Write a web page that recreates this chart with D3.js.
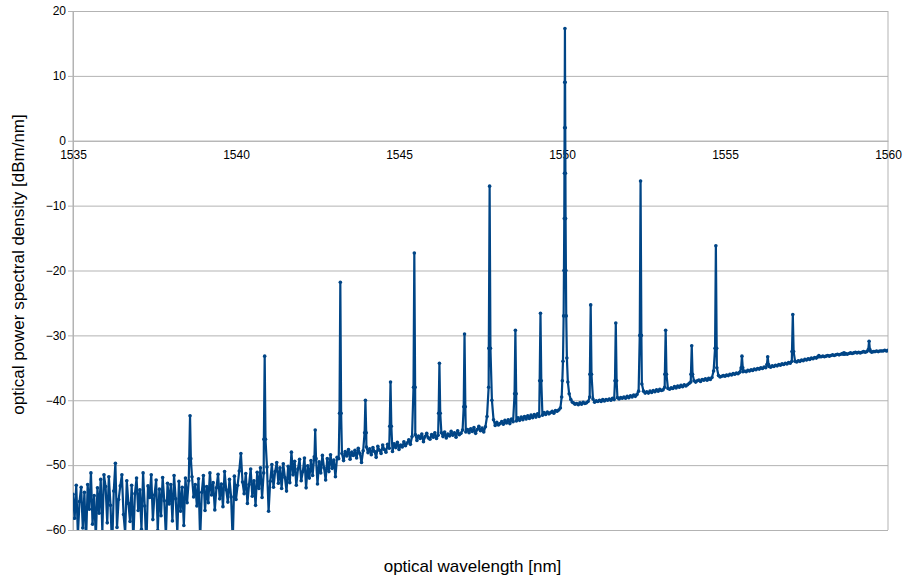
<!DOCTYPE html>
<html>
<head>
<meta charset="utf-8">
<script src="https://cdn.jsdelivr.net/npm/d3@7"></script>
<style>
  body { margin: 0; background: #fff; }
  .grid line { stroke: #b3b3b3; stroke-width: 1; }
  .grid path { stroke: none; }
  .axis text { font-family: "Liberation Sans", Arial, sans-serif; font-size: 12px; fill: #000; }
  .title { font-family: "Liberation Sans", Arial, sans-serif; font-size: 17px; fill: #000; }
  .line { fill: none; stroke: #004586; stroke-width: 2.2; stroke-linejoin: round; }
  .dot { fill: #004586; }
</style>
</head>
<body>
<div class="vis-spectrum"></div>
<script>
// tick labels
const xTicks = [1535, 1540, 1545, 1550, 1555, 1560];
const yTicks = [-60, -50, -40, -30, -20, -10, 0, 10, 20];

// spectrum samples, one value every 0.05 nm from 1535 nm
const specStart = 1535;
const specStep = 0.05;
const specDb = [
  // 1535.00 - 1538.50
  -54.5, -58.2, -53.1, -60.8, -55.6, -53.4, -59.7, -54.2, -62.0, -53.0,
  -56.8, -51.2, -59.1, -54.7, -61.3, -53.5, -57.4, -52.2, -60.2, -51.5,
  -53.3, -58.9, -51.8, -56.2, -63.0, -54.0, -49.7, -59.6, -55.3, -53.2,
  -51.5, -57.6, -60.5, -52.4, -55.9, -58.7, -53.1, -61.8, -54.4, -52.0,
  -57.0, -53.8, -59.9, -51.2, -56.3, -62.5, -53.2, -55.0, -51.5, -58.4,
  -54.6, -52.3, -60.1, -53.7, -57.8, -51.9, -55.5, -61.0, -52.8, -56.0,
  -53.0, -58.6, -51.6, -55.2, -60.4, -52.5, -57.1, -53.4, -59.3, -52.0, -55.8,
  // 1538.55 - 1540.80
  -52.4, -55.6, -51.8, -54.9, -53.0, -56.3, -52.1, -61.5, -54.2, -51.6,
  -57.0, -53.3, -55.8, -51.2, -54.6, -52.7, -56.9, -53.5, -51.4, -55.2,
  -52.9, -56.4, -51.0, -53.8, -55.7, -52.2, -54.9, -62.0, -51.7, -55.3,
  -53.1, -50.9, -48.2, -52.6, -54.4, -51.3, -55.9, -53.0, -50.6, -54.8,
  -52.4, -56.2, -51.1, -53.6, -50.4, -55.0,
  // 1540.85 - 1543.10
  -51.2, -53.9, -50.3, -57.1, -52.5, -49.9, -53.4, -51.0, -49.6, -52.8,
  -50.4, -53.6, -49.8, -51.9, -54.0, -50.2, -52.7, -48.0, -51.5, -49.4,
  -53.1, -50.6, -49.1, -52.4, -51.0, -48.9, -53.5, -50.1, -52.0, -49.3,
  -51.6, -48.7, -50.8, -52.9, -49.5, -51.2, -48.5, -50.4, -52.3, -49.0,
  -51.0, -48.4, -50.5, -49.2, -51.8, -48.8,
  // 1543.15 - 1549.80
  -49.0, -47.5, -48.2, -49.3, -47.9, -48.6, -47.6, -49.1, -48.0, -48.5,
  -47.7, -48.9, -47.4, -48.2, -49.6, -47.8, -48.3, -47.2, -48.1, -47.5,
  -48.4, -47.3, -47.9, -48.8, -47.1, -47.7, -48.2, -46.9, -47.6, -48.0,
  -46.8, -47.4, -47.0, -47.9, -46.7, -47.3, -46.5, -47.6, -46.9, -47.2,
  -46.4, -47.0, -46.6, -46.1, -46.8, -45.6, -45.9, -45.3, -46.2, -45.5,
  -45.9, -45.2, -46.4, -45.6, -45.1, -45.8, -46.0, -45.3, -45.7, -45.0,
  -45.9, -45.4, -45.5, -45.0, -45.6, -44.9, -45.8, -45.2, -45.5, -44.8,
  -45.4, -45.0, -45.7, -44.7, -45.3, -45.1, -44.6, -45.5, -44.9, -44.5,
  -45.0, -44.4, -44.8, -44.2, -45.1, -44.5, -44.0, -44.7, -44.3, -44.9,
  -44.1, -42.5, -38.0, -43.7, -40.0, -43.0, -43.9, -43.4, -43.8, -43.6,
  -43.3, -43.7, -43.1, -43.5, -43.0, -43.6, -42.9, -43.3, -42.8, -43.2,
  -42.7, -43.1, -42.6, -43.0, -42.5, -42.9, -42.4, -42.8, -42.3, -42.7,
  -42.2, -42.6, -42.1, -42.5, -42.0, -42.3, -41.9, -42.2, -41.8, -42.1,
  -41.9, -41.7, -42.0, -41.6,
  // 1549.85 - 1550.30 (under the 1550 nm line)
  -41.7, -41.5, -41.2, -40.0, -38.0, -30.0, -20.0, -35.0, -39.0, -40.2,
  // 1550.35 - 1560.00
  -40.4, -40.6, -40.5, -40.7, -40.4, -40.6, -40.3, -40.5, -40.4, -40.2,
  -39.5, -40.3, -39.8, -40.3, -40.1, -40.2, -40.0, -40.2, -39.9, -40.1,
  -39.9, -40.0, -39.8, -40.0, -39.7, -39.9, -39.2, -39.6, -39.8, -39.6,
  -39.7, -39.5, -39.7, -39.4, -39.6, -39.3, -39.5, -39.2, -39.4, -39.1,
  -38.6, -37.0, -37.5, -38.6, -38.9, -38.7, -38.9, -38.6, -38.8, -38.5,
  -38.7, -38.4, -38.6, -38.3, -38.5, -38.4, -38.0, -38.3, -38.2, -38.3,
  -38.1, -38.2, -37.9, -38.1, -37.8, -38.0, -37.7, -37.9, -37.6, -37.8,
  -37.6, -37.4, -37.2, -37.5, -37.0, -37.2, -37.0, -36.9, -37.1, -36.8,
  -36.9, -36.7, -36.9, -36.6, -36.8, -36.5, -35.5, -34.0, -35.0, -36.2,
  -36.4, -36.3, -36.2, -36.3, -36.1, -36.2, -36.0, -36.1, -35.9, -36.0,
  -35.8, -35.9, -35.7, -35.6, -35.6, -35.5, -35.6, -35.4, -35.5, -35.3,
  -35.4, -35.2, -35.3, -35.1, -35.2, -35.0, -35.1, -34.9, -35.0, -34.8,
  -34.8, -34.9, -34.7, -34.8, -34.6, -34.7, -34.5, -34.6, -34.4, -34.5,
  -34.3, -34.4, -34.2, -34.3, -34.0, -34.0, -34.0, -34.1, -33.9, -34.0,
  -33.8, -33.9, -33.7, -33.8, -33.6, -33.7, -33.5, -33.6, -33.4, -33.5,
  -33.3, -33.4, -33.3, -33.2, -33.3, -33.2, -33.1, -33.2, -33.1, -33.0,
  -33.1, -33.0, -32.9, -33.0, -32.9, -32.8, -32.9, -32.8, -32.9, -32.8,
  -32.7, -32.8, -32.7, -32.6, -32.7, -32.6, -32.7, -32.6, -32.5, -32.6,
  -32.5, -32.3, -32.4, -32.6, -32.5, -32.5, -32.4, -32.5, -32.4, -32.4,
  -32.4, -32.3, -32.4, -32.3
];

// comb lines: position [nm], peak level and level 0.025 nm either side [dBm/nm]
const peakWl = [1538.59, 1540.88, 1542.43, 1543.20, 1543.97, 1544.74, 1545.47, 1546.24,
                1547.01, 1547.78, 1548.57, 1549.34, 1550.88, 1551.65, 1552.41, 1553.18,
                1553.98, 1554.72, 1555.52, 1556.31, 1557.08, 1557.88, 1558.65, 1559.42];
const peakTop = [-42.4, -33.2, -44.6, -21.8, -40.0, -37.2, -17.3, -34.3,
                 -29.8, -7.0, -29.2, -26.6, -25.3, -28.1, -6.2, -29.2,
                 -31.6, -16.2, -33.2, -33.3, -26.8, -33.1, -32.7, -30.9];
const peakMid = [-49.0, -46.0, -49.0, -42.0, -45.0, -44.0, -38.0, -42.0,
                 -41.0, -32.0, -39.0, -37.0, -36.0, -37.0, -30.0, -36.0,
                 -36.0, -32.0, -35.0, -34.5, -32.5, -33.3, -32.9, -32.2];

// the strong line at 1550.09 nm, traced point by point
const centerWl = [1549.95, 1549.99, 1550.01, 1550.03, 1550.05, 1550.06, 1550.07, 1550.075,
                  1550.08, 1550.085, 1550.09, 1550.095, 1550.10, 1550.105, 1550.11, 1550.12,
                  1550.13, 1550.15, 1550.18, 1550.22, 1550.27, 1550.32];
const centerDb = [-41.2, -39.5, -37.0, -34.0, -27.0, -20.0, -12.0, -5.0,
                  2.0, 9.0, 17.3, 9.0, 2.0, -5.0, -12.0, -20.0,
                  -27.0, -33.5, -37.2, -39.0, -39.9, -40.3];

const draw = () => {
    let margin = {top: 11, right: 17, bottom: 49, left: 73};
    const W = 905, H = 579;
    const width = W - margin.left - margin.right;
    const height = H - margin.top - margin.bottom;

    // merge samples, comb lines and the centre line into one series
    let data = [];
    specDb.forEach(function(v, i){
        const wl = specStart + i * specStep;
        if (wl > centerWl[0] - 0.001 && wl < centerWl[centerWl.length - 1] + 0.001) return;
        if (peakWl.some(function(p){ return Math.abs(p - wl) < 0.024; })) return;
        data.push({wl: wl, db: v});
    });
    peakWl.forEach(function(p, i){
        data.push({wl: p - 0.025, db: peakMid[i]});
        data.push({wl: p, db: peakTop[i]});
        data.push({wl: p + 0.025, db: peakMid[i]});
    });
    centerWl.forEach(function(w, i){
        data.push({wl: w, db: centerDb[i]});
    });
    data.sort(function(a, b){ return a.wl - b.wl; });

    let svg = d3.select('.vis-spectrum')
                .append('svg')
                .attr('width', W)
                .attr('height', H)
                .append('g')
                .attr('transform', 'translate(' + margin.left + ',' + margin.top + ')');

    let xScale = d3.scaleLinear()
            .domain([1535, 1560])
            .range([0, width]);
    let yScale = d3.scaleLinear()
            .domain([-60, 20])
            .range([height, 0]);

    // horizontal grid lines
    svg.append('g')
        .attr('class', 'grid')
        .call(d3.axisLeft(yScale)
            .tickValues(yTicks)
            .tickSize(-width)
            .tickFormat(''));

    // frame on left and right
    svg.append('line')
        .attr('x1', 0).attr('x2', 0)
        .attr('y1', 0).attr('y2', height)
        .attr('stroke', '#b3b3b3');
    svg.append('line')
        .attr('x1', width).attr('x2', width)
        .attr('y1', 0).attr('y2', height)
        .attr('stroke', '#b3b3b3');

    // Y axis
    let yAxis = svg.append('g')
        .attr('class', 'axis')
        .call(d3.axisLeft(yScale)
            .tickValues(yTicks)
            .tickSize(5)
            .tickPadding(2));
    yAxis.select('.domain').attr('stroke', '#b3b3b3');
    yAxis.selectAll('.tick line').attr('stroke', '#b3b3b3');

    // X axis crosses at 0 dBm/nm
    let xAxis = svg.append('g')
        .attr('class', 'axis')
        .attr('transform', 'translate(0,' + yScale(0) + ')')
        .call(d3.axisBottom(xScale)
            .tickValues(xTicks)
            .tickSize(0)
            .tickPadding(10)
            .tickFormat(d3.format('d')));
    xAxis.select('.domain').attr('stroke', '#b3b3b3');

    // clip the trace to the plot area
    svg.append('clipPath')
        .attr('id', 'plot-clip')
        .append('rect')
        .attr('width', width)
        .attr('height', height);

    let plot = svg.append('g').attr('clip-path', 'url(#plot-clip)');

    plot.append('path')
        .datum(data)
        .attr('class', 'line')
        .attr('d', d3.line()
            .x(function(d){ return xScale(d.wl); })
            .y(function(d){ return yScale(d.db); }));

    plot.selectAll('.dot')
        .data(data)
        .enter()
        .append('circle')
        .attr('class', 'dot')
        .attr('cx', function(d){ return xScale(d.wl); })
        .attr('cy', function(d){ return yScale(d.db); })
        .attr('r', 1.8);

    // axis titles
    svg.append('text')
        .attr('class', 'title')
        .attr('x', width / 2 - 8)
        .attr('y', height + 42)
        .attr('text-anchor', 'middle')
        .text('optical wavelength [nm]');

    svg.append('text')
        .attr('class', 'title')
        .attr('transform', 'translate(' + (-49) + ',' + (height / 2 - 6) + ') rotate(-90)')
        .attr('text-anchor', 'middle')
        .text('optical power spectral density [dBm/nm]');
};

draw();
</script>
</body>
</html>
